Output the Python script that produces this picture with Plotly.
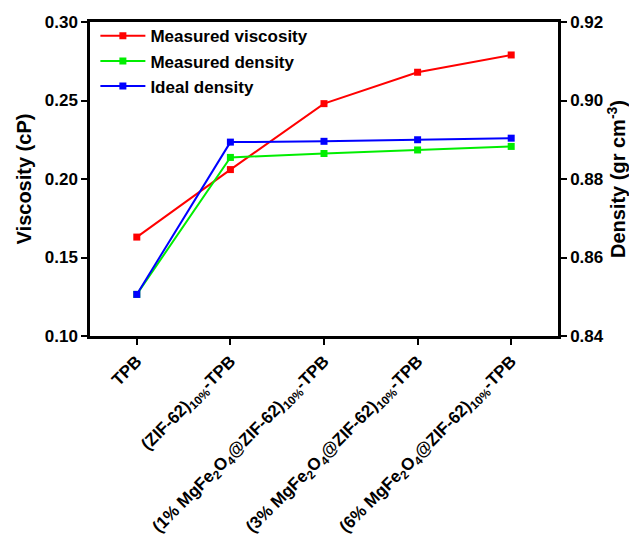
import plotly.graph_objects as go

categories = ["TPB",
              "(ZIF-62)<sub>10%</sub>-TPB",
              "(1% MgFe<sub>2</sub>O<sub>4</sub>@ZIF-62)<sub>10%</sub>-TPB",
              "(3% MgFe<sub>2</sub>O<sub>4</sub>@ZIF-62)<sub>10%</sub>-TPB",
              "(6% MgFe<sub>2</sub>O<sub>4</sub>@ZIF-62)<sub>10%</sub>-TPB"]
viscosity = [0.163, 0.206, 0.248, 0.268, 0.279]
measured_density = [0.8506, 0.8855, 0.8865, 0.8874, 0.8883]
ideal_density = [0.8506, 0.8894, 0.8896, 0.8900, 0.8904]
y1_ticks = [0.10, 0.15, 0.20, 0.25, 0.30]
y2_ticks = [0.84, 0.86, 0.88, 0.90, 0.92]

x = list(range(len(categories)))
FONT = "Liberation Sans, Arial, sans-serif"

fig = go.Figure()
fig.add_trace(go.Scatter(x=x, y=viscosity, name="Measured viscosity", mode="lines+markers",
                         line=dict(color="#ff0000", width=2), marker=dict(symbol="square", size=7, color="#ff0000")))
fig.add_trace(go.Scatter(x=x, y=measured_density, name="Measured density", mode="lines+markers", yaxis="y2",
                         line=dict(color="#00ee00", width=2), marker=dict(symbol="square", size=7, color="#00ee00")))
fig.add_trace(go.Scatter(x=x, y=ideal_density, name="Ideal density", mode="lines+markers", yaxis="y2",
                         line=dict(color="#0000ff", width=2), marker=dict(symbol="square", size=7, color="#0000ff")))

axis_common = dict(showline=True, linecolor="black", linewidth=2.5, ticks="outside", ticklen=6,
                   tickwidth=2, tickcolor="black", showgrid=False, zeroline=False, automargin=False,
                   tickfont=dict(family=FONT, size=17, color="black", weight="bold"))

# page body has an 8px margin, so the figure is sized/offset to compensate
fig.update_layout(
    width=629, height=533,
    margin=dict(l=82, r=79, t=10, b=205),
    plot_bgcolor="white", paper_bgcolor="white",
    font=dict(family=FONT, color="black", weight="bold"),
    xaxis=dict(range=[-0.5, 4.5], tickmode="array", tickvals=x, ticktext=categories, tickangle=-45,
               mirror=True, **axis_common),
    yaxis=dict(range=[0.10, 0.30], tickvals=y1_ticks, tickformat=".2f",
               title=dict(text="Viscosity (cP)", font=dict(family=FONT, size=20, color="black", weight="bold"), standoff=8),
               **axis_common),
    yaxis2=dict(range=[0.84, 0.92], tickvals=y2_ticks, tickformat=".2f", overlaying="y", side="right",
                title=dict(text="Density (gr cm<sup>-3</sup>)", font=dict(family=FONT, size=20, color="black", weight="bold"), standoff=9),
                **axis_common),
    legend=dict(x=0.0115, y=1.012, xanchor="left", yanchor="top", bgcolor="rgba(0,0,0,0)",
                itemwidth=45,
                font=dict(family=FONT, size=17, color="black", weight="bold"), tracegroupgap=0),
    showlegend=True,
)

fig.write_html("out.html")
